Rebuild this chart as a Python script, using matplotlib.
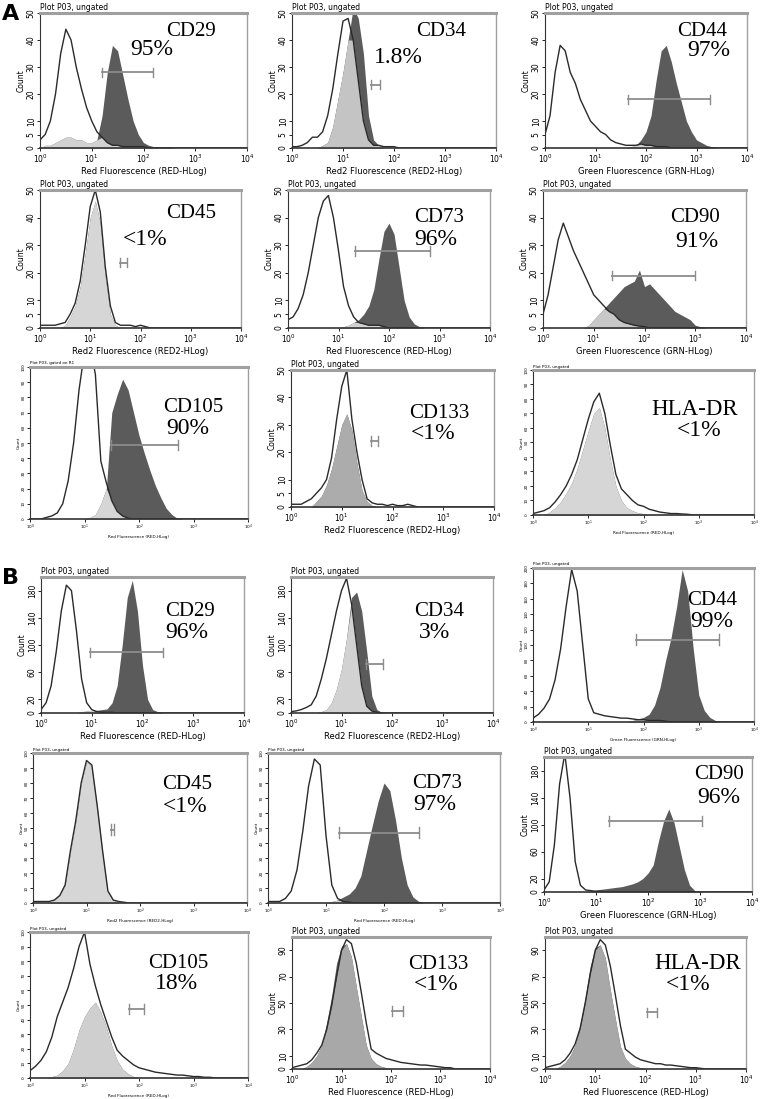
import numpy as np
import matplotlib.pyplot as plt

plt.rcParams['font.family'] = ['DejaVu Sans']

# histogram counts, one value every 0.1 decade, starting at the given decade
# (start, counts) ; ctrl = isotype control (open), stain = antibody (filled)
a_cd29_ctrl = (0.0, [3, 5, 10, 20, 35, 44, 40, 30, 22, 15, 10, 6, 4, 2, 1, 1, 0.5, 0.5, 0.5, 0.5, 0.5])
a_cd29_stain = (0.0, [0, 1, 1, 2, 3, 4, 4, 3, 3, 2, 2, 3, 12, 28, 38, 36, 27, 18, 10, 5, 2, 1, 0.5, 0.5, 0.3, 0.3])
a_cd34_ctrl = (0.0, [0.5, 0.5, 1, 2, 4, 4, 6, 12, 22, 35, 47, 48, 40, 25, 10, 3, 1, 1, 0.5, 0.5, 0.5])
a_cd34_stain = (0.6, [1, 2, 8, 18, 28, 40, 52, 48, 35, 12, 3, 1])
a_cd44_ctrl = (0.0, [5, 12, 28, 38, 36, 28, 24, 18, 14, 10, 8, 6, 5, 3, 2, 1.5, 1, 1, 1, 1.5, 1, 1, 0.5, 0.5, 0.5])
a_cd44_stain = (1.7, [0.5, 1, 3, 6, 12, 25, 36, 38, 32, 24, 17, 10, 6, 3, 2, 1, 0.5])
a_cd45_ctrl = (0.0, [1, 1, 1, 1, 1.5, 2, 5, 9, 17, 30, 44, 50, 42, 22, 8, 2, 1, 1, 1, 0.5, 1, 0.5])
a_cd45_stain = (0.5, [1, 4, 8, 15, 27, 40, 46, 38, 18, 5, 1])
a_cd73_ctrl = (0.0, [3, 4, 7, 12, 20, 30, 40, 46, 48, 40, 28, 15, 8, 4, 2, 1.5, 1, 1, 1, 0.5])
a_cd73_stain = (1.1, [0.5, 1, 2, 3, 5, 8, 14, 25, 35, 38, 34, 22, 10, 4, 1.5, 0.5])
a_cd90_ctrl = (0.0, [5, 12, 22, 32, 38, 33, 28, 24, 20, 16, 12, 10, 8, 6, 5, 3, 2, 1.5, 1, 0.7, 0.5])
a_cd90_stain = (0.9, [1, 3, 5, 7, 9, 11, 13, 15, 16, 17, 21, 15, 16, 14, 12, 10, 8, 6, 5, 4, 3, 1, 0.5])
a_cd105_ctrl = (0.3, [1, 2, 4, 10, 25, 50, 85, 110, 115, 95, 38, 24, 12, 5, 2, 0.5])
a_cd105_stain = (1.1, [1, 3, 10, 20, 70, 82, 92, 85, 70, 55, 43, 32, 22, 14, 7, 3, 0.5])
a_cd133_ctrl = (0.0, [1, 1, 1, 2, 3, 5, 7, 10, 18, 32, 44, 50, 32, 20, 10, 3, 1.5, 1, 1, 0.5, 1, 0.5, 0.5, 1, 0.5])
a_cd133_stain = (0.5, [2, 4, 8, 14, 22, 30, 34, 28, 16, 6, 2, 0.5])
a_hla_ctrl = (0.0, [1, 2, 3, 5, 9, 14, 20, 28, 38, 52, 66, 78, 84, 70, 48, 28, 18, 14, 10, 7, 6, 4, 3, 2, 1.5, 1, 1, 0.7, 0.5])
a_hla_stain = (0.3, [2, 5, 9, 15, 22, 32, 45, 58, 70, 74, 60, 38, 20, 10, 5, 3, 1.5, 1])

b_cd29_ctrl = (0.0, [5, 15, 40, 90, 150, 188, 180, 120, 50, 15, 5, 2, 1, 1, 1])
b_cd29_stain = (0.8, [2, 3, 4, 4, 5, 6, 15, 40, 100, 170, 195, 150, 70, 20, 5, 2])
b_cd34_ctrl = (0.0, [2, 3, 5, 8, 12, 25, 50, 80, 115, 150, 180, 198, 160, 100, 40, 10, 3, 1])
b_cd34_stain = (0.6, [2, 5, 15, 35, 65, 110, 170, 178, 150, 90, 25, 5, 1])
b_cd44_ctrl = (0.0, [5, 10, 18, 30, 55, 95, 150, 198, 170, 100, 30, 12, 10, 8, 7, 6, 5, 5, 4, 3, 3, 2, 2, 2, 1])
b_cd44_stain = (1.8, [2, 4, 6, 10, 22, 45, 80, 110, 150, 198, 170, 95, 35, 15, 6, 2])
b_cd45_ctrl = (0.0, [1, 1, 1, 1, 2, 5, 12, 35, 55, 80, 95, 92, 65, 35, 8, 2, 1, 0.5])
b_cd45_stain = (0.4, [2, 5, 12, 34, 54, 79, 94, 91, 64, 34, 7, 2])
b_cd73_ctrl = (0.0, [1, 1, 1, 3, 8, 22, 48, 78, 96, 92, 45, 12, 3, 1, 0.5])
b_cd73_stain = (1.1, [1, 2, 4, 6, 10, 18, 35, 52, 68, 80, 75, 55, 30, 12, 4, 1])
b_cd90_ctrl = (0.0, [3, 15, 70, 160, 205, 140, 45, 10, 3, 2, 1, 1])
b_cd90_stain = (0.9, [1, 3, 4, 5, 6, 7, 8, 10, 12, 15, 20, 28, 40, 75, 105, 123, 103, 68, 33, 10, 2, 0.5])
b_cd105_ctrl = (0.0, [5, 8, 12, 18, 28, 42, 52, 62, 75, 90, 100, 78, 63, 50, 39, 28, 19, 15, 12, 9, 7, 6, 5, 4,
                      3.5, 3, 2.5, 2, 2, 1.5, 1, 1, 0.5, 0.5])
b_cd105_stain = (0.4, [1, 2, 5, 10, 20, 33, 42, 48, 52, 45, 35, 22, 12, 6, 3, 1])
b_cd133_ctrl = (0.0, [1, 2, 3, 4, 7, 12, 18, 30, 48, 70, 90, 98, 95, 80, 58, 35, 15, 12, 10, 8, 7, 6, 5, 4.5,
                      4, 3.5, 3, 3, 2.5, 2, 1.5, 1, 1])
b_cd133_stain = (0.3, [2, 5, 10, 18, 35, 55, 80, 93, 95, 85, 62, 40, 18, 8, 4, 2, 1])
b_hla_ctrl = (0.0, [1, 2, 3, 4, 7, 12, 19, 31, 50, 72, 90, 98, 94, 78, 56, 33, 15, 12, 9, 7, 6, 5, 4, 4,
                    3, 3, 2.5, 2, 1.5, 1, 1, 0.5])
b_hla_stain = (0.3, [2, 5, 10, 18, 34, 54, 78, 92, 94, 84, 60, 38, 17, 8, 4, 2, 1])

# gate marker: (left decade, right decade, height in counts)
gates = {
    'a_cd29': (1.19, 2.19, 28), 'a_cd34': (1.54, 1.72, 23.5), 'a_cd44': (1.65, 3.27, 18),
    'a_cd45': (1.60, 1.73, 23.7), 'a_cd73': (1.33, 2.81, 28), 'a_cd90': (1.35, 3.0, 19),
    'a_cd105': (1.49, 2.71, 48.6), 'a_cd133': (1.57, 1.71, 24), 'a_hla': None,
    'b_cd29': (0.96, 2.40, 89), 'b_cd34': (1.49, 1.83, 72), 'b_cd44': (1.86, 3.36, 107),
    'b_cd45': (1.45, 1.52, 49), 'b_cd73': (1.23, 2.6, 47), 'b_cd90': (1.25, 3.04, 105),
    'b_cd105': (1.82, 2.09, 47), 'b_cd133': (2.02, 2.24, 44), 'b_hla': (2.03, 2.22, 43),
}

RED = 'Red Fluorescence (RED-HLog)'
RED2 = 'Red2 Fluorescence (RED2-HLog)'
GRN = 'Green Fluorescence (GRN-HLog)'

# key, marker, percent, ctrl, stain, ymax, xlabel, tiny, overlap colour, pixel box (l, t, r, b),
# text positions (name x, y, pct x, y)
panels = [
    ('a_cd29', 'CD29', '95%', a_cd29_ctrl, a_cd29_stain, 50, RED, False, '#d2d2d2', (40, 13, 247, 148), (0.73, 0.86, 0.54, 0.73)),
    ('a_cd34', 'CD34', '1.8%', a_cd34_ctrl, a_cd34_stain, 50, RED2, False, '#c4c4c4', (292, 13, 496, 148), (0.73, 0.86, 0.52, 0.67)),
    ('a_cd44', 'CD44', '97%', a_cd44_ctrl, a_cd44_stain, 50, GRN, False, '#d2d2d2', (545, 13, 747, 148), (0.78, 0.86, 0.81, 0.72)),
    ('a_cd45', 'CD45', '<1%', a_cd45_ctrl, a_cd45_stain, 50, RED2, False, '#d6d6d6', (40, 190, 241, 328), (0.75, 0.83, 0.525, 0.64)),
    ('a_cd73', 'CD73', '96%', a_cd73_ctrl, a_cd73_stain, 50, RED, False, '#d2d2d2', (288, 190, 490, 328), (0.75, 0.80, 0.73, 0.64)),
    ('a_cd90', 'CD90', '91%', a_cd90_ctrl, a_cd90_stain, 50, GRN, False, '#c8c8c8', (543, 190, 746, 328), (0.75, 0.80, 0.76, 0.63)),
    ('a_cd105', 'CD105', '90%', a_cd105_ctrl, a_cd105_stain, 100, RED, True, '#d6d6d6', (30, 367, 248, 519), (0.75, 0.735, 0.725, 0.595)),
    ('a_cd133', 'CD133', '<1%', a_cd133_ctrl, a_cd133_stain, 50, RED2, False, '#acacac', (291, 370, 494, 507), (0.73, 0.685, 0.70, 0.535)),
    ('a_hla', 'HLA-DR', '<1%', a_hla_ctrl, a_hla_stain, 100, RED, True, '#d6d6d6', (533, 370, 754, 515), (0.73, 0.725, 0.75, 0.58)),
    ('b_cd29', 'CD29', '96%', b_cd29_ctrl, b_cd29_stain, 200, RED, False, '#d2d2d2', (41, 577, 244, 713), (0.735, 0.75, 0.72, 0.59)),
    ('b_cd34', 'CD34', '3%', b_cd34_ctrl, b_cd34_stain, 200, RED2, False, '#d2d2d2', (291, 577, 493, 713), (0.735, 0.75, 0.71, 0.59)),
    ('b_cd44', 'CD44', '99%', b_cd44_ctrl, b_cd44_stain, 200, GRN, True, '#d2d2d2', (533, 568, 754, 722), (0.81, 0.79, 0.81, 0.655)),
    ('b_cd45', 'CD45', '<1%', b_cd45_ctrl, b_cd45_stain, 100, RED2, True, '#d6d6d6', (33, 753, 247, 903), (0.72, 0.79, 0.71, 0.64)),
    ('b_cd73', 'CD73', '97%', b_cd73_ctrl, b_cd73_stain, 100, RED, True, '#d2d2d2', (268, 753, 500, 903), (0.73, 0.80, 0.72, 0.66)),
    ('b_cd90', 'CD90', '96%', b_cd90_ctrl, b_cd90_stain, 200, GRN, False, '#d2d2d2', (544, 757, 752, 892), (0.84, 0.87, 0.84, 0.70)),
    ('b_cd105', 'CD105', '18%', b_cd105_ctrl, b_cd105_stain, 100, RED, True, '#cfcfcf', (30, 932, 248, 1078), (0.68, 0.785, 0.67, 0.65)),
    ('b_cd133', 'CD133', '<1%', b_cd133_ctrl, b_cd133_stain, 100, RED, False, '#a8a8a8', (292, 937, 490, 1069), (0.74, 0.79, 0.73, 0.64)),
    ('b_hla', 'HLA-DR', '<1%', b_hla_ctrl, b_hla_stain, 100, RED, False, '#a8a8a8', (545, 937, 746, 1069), (0.76, 0.80, 0.71, 0.64)),
]

W, H = 760, 1099
STEP = 0.1
NBIN = 41
xgrid = 10 ** (np.arange(NBIN) * STEP)


def expand(curve):
    start, vals = curve
    full = np.zeros(NBIN)
    i0 = int(round(start / STEP))
    full[i0:i0 + len(vals)] = vals
    return full


fig = plt.figure(figsize=(W / 100, H / 100), dpi=100)

for key, name, pct, ctrl, stain, ymax, xlab, tiny, ovl, box, tpos in panels:
    l, t, r, b = box
    ax = fig.add_axes([l / W, 1 - b / H, (r - l) / W, (b - t) / H])
    c = expand(ctrl)
    s = expand(stain)
    ax.fill_between(xgrid, 0, s, color='#5b5b5b', lw=0)
    ax.fill_between(xgrid, 0, np.minimum(c, s), color=ovl, lw=0)
    ax.plot(xgrid, c, color='#2a2a2a', lw=1.0)

    g = gates[key]
    if g is not None:
        g0, g1, gy = 10 ** g[0], 10 ** g[1], g[2]
        cap = ymax * 0.035
        ax.plot([g0, g1], [gy, gy], color='#8c8c8c', lw=1.3)
        ax.plot([g0, g0], [gy - cap, gy + cap], color='#8c8c8c', lw=1.0)
        ax.plot([g1, g1], [gy - cap, gy + cap], color='#8c8c8c', lw=1.0)

    ax.set_xscale('log')
    ax.set_xlim(1, 1e4)
    ax.set_ylim(0, ymax)
    ax.minorticks_off()
    ax.set_xticks([1, 10, 100, 1000, 10000])
    ax.set_xticklabels(['$10^0$', '$10^1$', '$10^2$', '$10^3$', '$10^4$'])

    fs = 3 if tiny else 5.5
    if tiny:
        ax.set_yticks(np.linspace(0, ymax, 11))
        ax.set_yticklabels([f'{v:g}' for v in np.linspace(0, ymax, 11)])
        title = 'Plot P03, gated on R1' if key == 'a_cd105' else 'Plot P03, ungated'
    else:
        if ymax == 50:
            yt = [0, 5, 10, 20, 30, 40, 50]
        elif ymax == 200:
            yt = [0, 20, 60, 100, 140, 180]
        else:
            yt = [0, 10, 30, 50, 70, 90]
        ax.set_yticks(yt)
        title = 'Plot P03, ungated'
    ax.tick_params(axis='both', labelsize=fs, length=2, width=0.6, pad=1)
    for lab in ax.get_yticklabels():
        lab.set_rotation(90)
        lab.set_va('center')
    ax.set_xlabel(xlab, fontsize=fs + (0.5 if not tiny else 0), labelpad=1.5)
    ax.set_ylabel('Count', fontsize=fs, labelpad=1)
    ax.text(0.0, 1.01, title, transform=ax.transAxes, fontsize=fs, va='bottom', ha='left')

    ax.spines['top'].set_color('#a0a0a0')
    ax.spines['top'].set_linewidth(2.2)
    ax.spines['right'].set_color('#a0a0a0')
    ax.spines['right'].set_linewidth(1.0)
    ax.spines['left'].set_color('#333333')
    ax.spines['bottom'].set_color('#333333')
    ax.spines['bottom'].set_linewidth(1.2)

    nx, ny, px, py = tpos
    big = 16.5 if name == 'HLA-DR' else 15
    ax.text(nx, ny, name, transform=ax.transAxes, ha='center', va='center',
            family='Liberation Serif', fontsize=big)
    ax.text(px, py, pct, transform=ax.transAxes, ha='center', va='center',
            family='Liberation Serif', fontsize=17)

fig.text(2 / W, 1 - 14 / H, 'A', fontsize=16, weight='bold', va='center')
fig.text(2 / W, 1 - 578 / H, 'B', fontsize=16, weight='bold', va='center')

fig.savefig('out.png', dpi=100)
